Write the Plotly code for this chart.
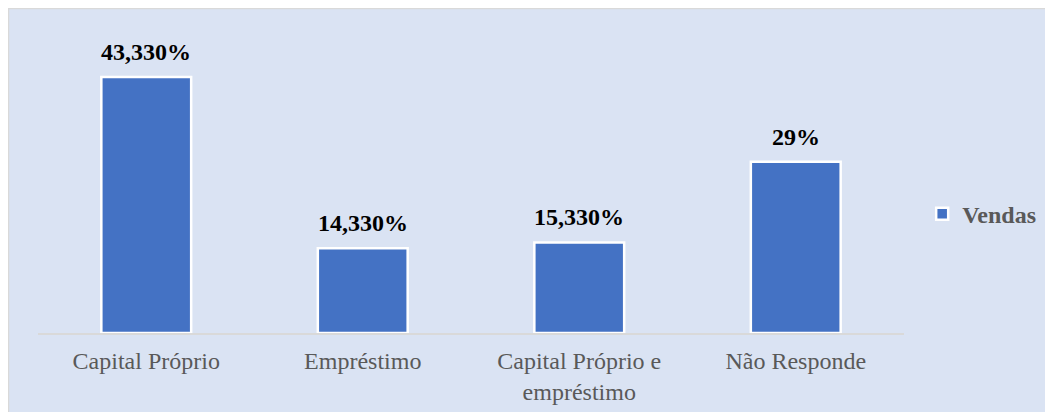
import plotly.graph_objects as go

# data
categories = ["Capital Próprio", "Empréstimo", "Capital Próprio e<br>empréstimo", "Não Responde"]
vendas = [43.33, 14.33, 15.33, 29.0]
value_labels = ["43,330%", "14,330%", "15,330%", "29%"]
series_name = "Vendas"

BAR_BLUE = "#4472C4"
PANEL_BG = "#DAE3F3"
BORDER = "#D9D9D9"
TEXT_GRAY = "#595959"
SERIF = "Liberation Serif, Times New Roman, serif"

W, H = 1045, 404          # page body adds an 8px margin on top/left
L, R, T, B = 30, 149, 12, 79
plot_w, plot_h = W - L - R, H - T - B

fig = go.Figure()
fig.add_trace(go.Bar(
    x=categories,
    y=vendas,
    name=series_name,
    marker=dict(color=BAR_BLUE, line=dict(color="white", width=2.5)),
    showlegend=True,
))

# value labels above the bars
for cat, val, lab in zip(categories, vendas, value_labels):
    fig.add_annotation(
        x=cat, y=val, text=f"<b>{lab}</b>",
        showarrow=False, yanchor="bottom", yshift=10,
        font=dict(family=SERIF, size=24, color="black"),
    )

# thin gray border along the top/left edge of the chart panel
fig.add_shape(type="rect", xref="paper", yref="paper",
              x0=-L / plot_w, x1=1.5, y0=-0.6, y1=1 + T / plot_h,
              fillcolor="rgba(0,0,0,0)", line=dict(color=BORDER, width=2.5))

fig.update_layout(
    width=W, height=H,
    margin=dict(l=L, r=R, t=T, b=B),
    paper_bgcolor=PANEL_BG,
    plot_bgcolor="rgba(0,0,0,0)",
    bargap=0.585,
    font=dict(family=SERIF, size=24, color=TEXT_GRAY),
    xaxis=dict(
        showline=True, linecolor=BORDER, linewidth=1.5,
        ticks="", showgrid=False, ticklabelstandoff=5, automargin=False,
        tickfont=dict(size=24, color=TEXT_GRAY),
    ),
    yaxis=dict(range=[0, 53], visible=False, showgrid=False, zeroline=False,
               automargin=False),
    legend=dict(
        x=1.021, xanchor="left", y=0.38, yanchor="middle",
        bgcolor="rgba(0,0,0,0)",
        font=dict(family=SERIF, size=24, color=TEXT_GRAY, weight="bold"),
    ),
)

fig.write_html("out.html")
